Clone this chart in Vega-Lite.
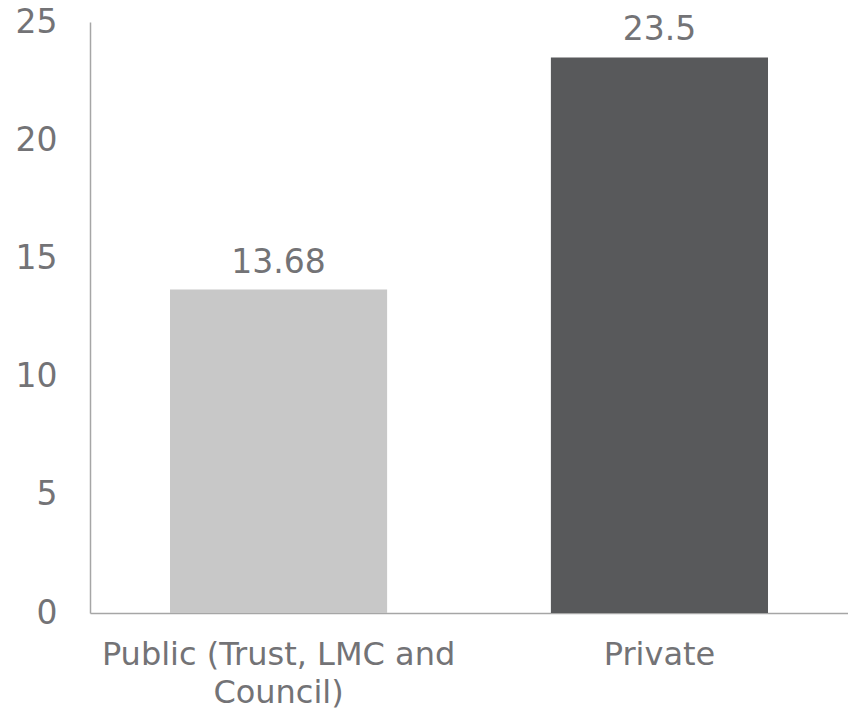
{
  "$schema": "https://vega.github.io/schema/vega-lite/v6.json",
  "width": 758,
  "height": 591,
  "autosize": {"type": "none"},
  "padding": {"left": 90, "top": 22, "right": 0, "bottom": 99},
  "background": "white",
  "config": {
    "view": {"stroke": null},
    "font": "DejaVu Sans",
    "axis": {"grid": false, "ticks": false, "domainColor": "#a6a6a6", "domainWidth": 1.5, "labelColor": "#737376", "labelFont": "DejaVu Sans", "labelFontSize": 33, "title": null}
  },
  "data": {
    "values": [
      {"sector": "Public (Trust, LMC and Council)", "value": 13.68, "label": "13.68"},
      {"sector": "Private", "value": 23.5, "label": "23.5"}
    ]
  },
  "encoding": {
    "x": {
      "field": "sector",
      "type": "nominal",
      "sort": null,
      "scale": {"paddingInner": 0.43, "paddingOuter": 0.21},
      "axis": {
        "labelAngle": 0,
        "labelPadding": 26,
        "labelFontSize": 32,
        "labelLineHeight": 38,
        "labelLimit": 0,
        "labelExpr": "datum.value == 'Public (Trust, LMC and Council)' ? ['Public (Trust, LMC and', 'Council)'] : datum.value"
      }
    },
    "y": {
      "field": "value",
      "type": "quantitative",
      "scale": {"domain": [0, 25], "nice": false},
      "axis": {"values": [0, 5, 10, 15, 20, 25], "labelPadding": 33, "domain": true}
    }
  },
  "layer": [
    {
      "mark": {"type": "bar"},
      "encoding": {
        "color": {
          "field": "sector",
          "type": "nominal",
          "scale": {"domain": ["Public (Trust, LMC and Council)", "Private"], "range": ["#c8c8c8", "#58595b"]},
          "legend": null
        }
      }
    },
    {
      "mark": {"type": "text", "baseline": "alphabetic", "dy": -17, "fontSize": 33, "color": "#737376", "font": "DejaVu Sans"},
      "encoding": {"text": {"field": "label"}}
    }
  ]
}
